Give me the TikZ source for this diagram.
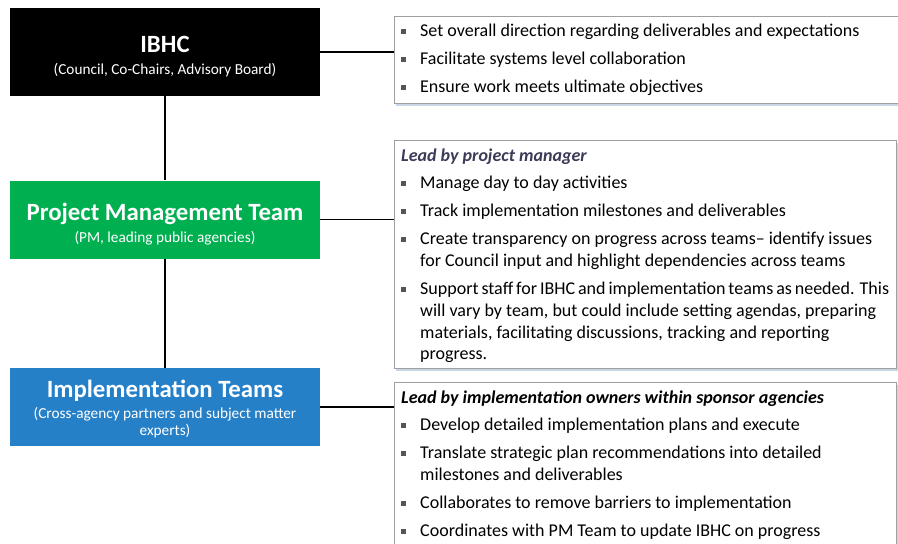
\documentclass[tikz,border=0pt]{standalone}
\usepackage{fontspec}
\setmainfont{Carlito}
\usetikzlibrary{shadows}

\definecolor{pmgreen}{HTML}{00B050}
\definecolor{itblue}{HTML}{2680C8}
\definecolor{boxgray}{HTML}{A0A0A0}
\definecolor{shadeblue}{HTML}{C8D6E8}
\definecolor{bulgray}{HTML}{555555}
\definecolor{leadgray}{HTML}{3B3B58}

\newcommand{\rolettl}[2]{\rule{0pt}{#1}{\fontsize{24.8}{28}\selectfont\bfseries #2}}
\newcommand{\rolesub}[1]{{\fontsize{15.3}{17}\selectfont #1}}
\newcommand{\bitem}[1]{\par\hangindent=19pt\hangafter=1\noindent
  \makebox[19pt][l]{\textcolor{bulgray}{\rule[3pt]{5pt}{5pt}}}#1\par\vspace{6.3pt}}
\newcommand{\leadline}[1]{\noindent\rule{0pt}{21pt}\textbf{\textit{#1}}\par\vspace{6pt}}

\tikzset{
  role/.style={minimum width=310pt, minimum height=78pt, text=white,
    align=center, inner sep=0pt, font=\fontsize{15.3}{17}\selectfont},
  duty/.style={draw=boxgray, fill=white, anchor=north west, inner xsep=7pt,
    inner ysep=0pt, font=\fontsize{18}{21.7}\selectfont,
    drop shadow={shadow xshift=1.5pt, shadow yshift=-3pt, fill=shadeblue, opacity=1}},
  link/.style={line width=1.5pt}
}

\begin{document}
\begin{tikzpicture}[x=1pt, y=-1pt]
  \useasboundingbox (0,0) rectangle (898,544);

  % roles
  \node[role, fill=black, minimum height=88pt] (ibhc) at (165,52)
    {\rolettl{26pt}{IBHC}\\[5pt]\rolesub{(Council, Co-Chairs, Advisory Board)}};
  \node[role, fill=pmgreen] (pm) at (165,219.5)
    {\rolettl{26pt}{Project Management Team}\\[5pt]\rolesub{(PM, leading public agencies)}};
  \node[role, fill=itblue] (impl) at (165,407)
    {\rolettl{22pt}{Implementation Teams}\\[4pt]\rolesub{(Cross-agency partners and subject matter}\\\rolesub{experts)}};

  % duties
  \node[duty] (ibhcduty) at (394,16) {\parbox[c][87pt][t]{496pt}{%
    \bitem{\rule{0pt}{20.5pt}Set overall direction regarding deliverables and expectations}
    \bitem{Facilitate systems level collaboration}
    \bitem{Ensure work meets ultimate objectives}}};
  \node[duty] (pmduty) at (394,140) {\parbox[c][228pt][t]{488pt}{%
    \leadline{\textcolor{leadgray}{Lead by project manager}}
    \bitem{Manage day to day activities}
    \bitem{Track implementation milestones and deliverables}
    \bitem{Create transparency on progress across teams-- identify issues\\
      for Council input and highlight dependencies across teams}
    \bitem{Support staff for IBHC and implementation teams as needed. This\\
      will vary by team, but could include setting agendas, preparing\\
      materials, facilitating discussions, tracking and reporting\\
      progress.}}};
  \node[duty] (implduty) at (394,382) {\parbox[c][180pt][t]{488pt}{%
    \leadline{Lead by implementation owners within sponsor agencies}
    \bitem{Develop detailed implementation plans and execute}
    \bitem{Translate strategic plan recommendations into detailed\\
      milestones and deliverables}
    \bitem{Collaborates to remove barriers to implementation}
    \bitem{Coordinates with PM Team to update IBHC on progress}}};

  % links
  \draw[link] (ibhc) -- (pm);
  \draw[link] (pm) -- (impl);
  \draw[link] (ibhc.east) -- (ibhc.east -| ibhcduty.west);
  \draw[link] (pm.east) -- (pm.east -| pmduty.west);
  \draw[link] (impl.east) -- (impl.east -| implduty.west);
\end{tikzpicture}
\end{document}
